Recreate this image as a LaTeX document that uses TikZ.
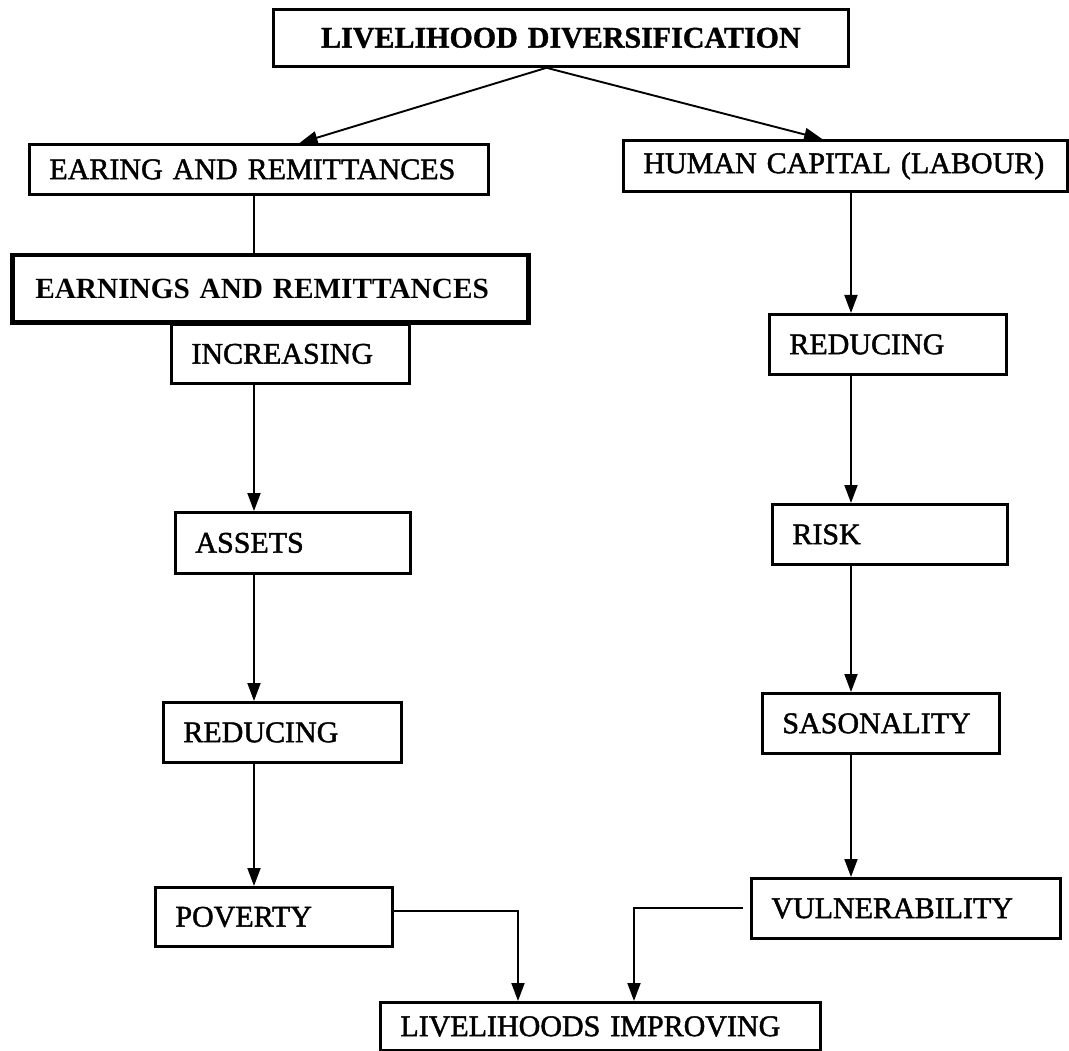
\documentclass[tikz,border=0pt]{standalone}
\usepackage{fontspec}
\setmainfont{Liberation Serif}
\newfontfamily\scanfont[FakeBold=1.5]{Liberation Serif}
\newfontfamily\scanboldfont[FakeBold=1.2]{Liberation Serif Bold}
\usetikzlibrary{arrows.meta,calc}

\begin{document}
\begin{tikzpicture}[x=1pt, y=-1pt,
    flowbox/.style={draw=black, line width=2.8pt, anchor=north west, inner xsep=20pt,
      inner ysep=0pt, align=left, font=\scanfont\fontsize{30}{36}\selectfont},
    headbox/.style={flowbox, align=center, font=\scanboldfont\fontsize{30}{36}\selectfont},
    boldbox/.style={flowbox, line width=4.5pt, inner xsep=23pt,
      font=\bfseries\fontsize{29.3}{36}\selectfont},
    linkarrow/.style={line width=1.9pt, -{Triangle[length=18pt, width=13pt]}},
    linkline/.style={line width=1.9pt}]

  \useasboundingbox (0,0) rectangle (1069,1051);

  % Column guides
  \coordinate (lcol) at (254,0);
  \coordinate (rcol) at (851,0);

  % Define nodes
  \node[headbox, minimum height=57pt, text width=535pt] (div) at (272,8) {LIVELIHOOD DIVERSIFICATION};

  \node[flowbox, minimum height=50pt, text width=419pt] (ear) at (28,143) {EARING AND REMITTANCES};
  \node[flowbox, minimum height=51pt, text width=404pt] (hum) at (622,139) {HUMAN CAPITAL (LABOUR)};

  % Left column
  \node[boldbox, minimum height=67pt, text width=470pt] (earn) at (10,253) {EARNINGS AND REMITTANCES};
  \node[flowbox, minimum height=59pt, text width=198pt] (inc) at (170,323) {INCREASING};
  \node[flowbox, minimum height=61pt, text width=195pt] (ast) at (174,511) {ASSETS};
  \node[flowbox, minimum height=60pt, text width=198pt] (redl) at (162,701) {REDUCING};
  \node[flowbox, minimum height=59pt, text width=197pt] (pov) at (154,886) {POVERTY};

  % Right column
  \node[flowbox, minimum height=60pt, text width=197pt] (redr) at (768,313) {REDUCING};
  \node[flowbox, minimum height=60pt, text width=195pt] (risk) at (771,503) {RISK};
  \node[flowbox, minimum height=60pt, text width=197pt] (sas) at (761,692) {SASONALITY};
  \node[flowbox, minimum height=60pt, text width=269pt] (vul) at (750,877) {VULNERABILITY};

  \node[flowbox, minimum height=48pt, text width=400pt] (liv) at (379,1001) {LIVELIHOODS IMPROVING};

  % Top split
  \draw[linkarrow] ($(div.south west)!0.475!(div.south east)$) -- ($(ear.north west)!0.588!(ear.north east)$);
  \draw[linkarrow] ($(div.south west)!0.475!(div.south east)$) -- ($(hum.north west)!0.448!(hum.north east)$);

  \draw[linkline] (ear.south -| lcol) -- (earn.north -| lcol);
  \draw[linkarrow] (inc.south -| lcol) -- (ast.north -| lcol);
  \draw[linkarrow] (ast.south -| lcol) -- (redl.north -| lcol);
  \draw[linkarrow] (redl.south -| lcol) -- (pov.north -| lcol);

  \draw[linkarrow] (hum.south -| rcol) -- (redr.north -| rcol);
  \draw[linkarrow] (redr.south -| rcol) -- (risk.north -| rcol);
  \draw[linkarrow] (risk.south -| rcol) -- (sas.north -| rcol);
  \draw[linkarrow] (sas.south -| rcol) -- (vul.north -| rcol);

  % Merge
  \draw[linkarrow] ([yshift=6pt]pov.east) -| ($(liv.north west)+(139,0)$);
  \draw[linkarrow] ([xshift=-7pt]vul.west) -| ($(liv.north west)+(255,0)$);

\end{tikzpicture}
\end{document}
